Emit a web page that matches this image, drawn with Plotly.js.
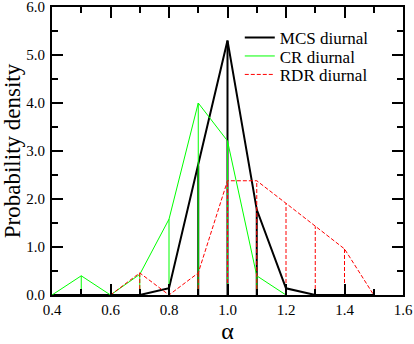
<!DOCTYPE html>
<html>
<head>
<meta charset="utf-8">
<script src="https://cdn.plot.ly/plotly-3.0.1.min.js"></script>
<style>html,body{margin:0;padding:0;background:#fff;}#chart{width:414px;height:344px;}</style>
</head>
<body>
<div id="chart"></div>
<script>
const alphaValues = [0.4, 0.5, 0.6, 0.7, 0.8, 0.9, 1.0, 1.1, 1.2, 1.3, 1.4, 1.5];
const mcsDiurnal = [0, 0, 0, 0, 0.14, 2.7, 5.3, 1.78, 0.14, 0, 0, 0];
const crDiurnal  = [0, 0.4, 0, 0.43, 1.58, 4.0, 3.21, 0.4, 0, null, null, null];
const rdrDiurnal = [null, null, 0, 0.46, 0, 0.46, 2.38, 2.38, 1.91, 1.43, 0.96, 0];
const seriesNames = ["MCS diurnal", "CR diurnal", "RDR diurnal"];
const xTickVals = [0.4, 0.6, 0.8, 1.0, 1.2, 1.4, 1.6];
const xTickText = ["0.4", "0.6", "0.8", "1.0", "1.2", "1.4", "1.6"];
const yTickVals = [0, 1, 2, 3, 4, 5, 6];
const yTickText = ["0.0", "1.0", "2.0", "3.0", "4.0", "5.0", "6.0"];

const serif = 'Liberation Serif, DejaVu Serif, serif';

function dropLines(xs, ys) {
  const dx = [], dy = [];
  xs.forEach((x, i) => {
    const y = ys[i];
    if (y !== null && y > 0) { dx.push(x, x, null); dy.push(0, y, null); }
  });
  return {x: dx, y: dy};
}

const styles = [
  {color: "#000000", width: 2, dash: "solid"},
  {color: "#00ff00", width: 1, dash: "solid"},
  {color: "#ff0000", width: 1, dash: "4px,2px"}
];
const allSeries = [mcsDiurnal, crDiurnal, rdrDiurnal];
const legendIds = ["legend", "legend2", "legend3"];

const traces = [];
allSeries.forEach((ys, k) => {
  const d = dropLines(alphaValues, ys);
  traces.push({
    x: d.x, y: d.y, type: "scatter", mode: "lines", showlegend: false, hoverinfo: "skip",
    line: {color: styles[k].color, width: styles[k].width, dash: styles[k].dash}
  });
  traces.push({
    x: alphaValues, y: ys, type: "scatter", mode: "lines", name: seriesNames[k],
    connectgaps: false, legend: legendIds[k],
    line: {color: styles[k].color, width: styles[k].width, dash: styles[k].dash}
  });
});

const axisCommon = {
  showgrid: false, zeroline: false, showline: true, linecolor: "#000", linewidth: 2,
  mirror: "allticks", ticks: "inside", ticklen: 11, tickwidth: 2, tickcolor: "#000",
  tickfont: {family: serif, size: 15, color: "#000"}, ticklabeloverflow: "allow"
};

function legendAt(yPaper) {
  return {
    x: 0.535, y: yPaper, xanchor: "left", yanchor: "middle",
    bgcolor: "rgba(0,0,0,0)", borderwidth: 0,
    font: {family: serif, size: 17, color: "#000"},
    itemwidth: 30, tracegroupgap: 0
  };
}
const plotTop = 7, plotH = 344 - 7 - 48.5;
function py(pix) { return 1 - (pix - plotTop) / plotH; }

const layout = {
  width: 414, height: 344,
  margin: {l: 52, r: 11, t: 7, b: 48.5, pad: 0},
  paper_bgcolor: "#fff", plot_bgcolor: "#fff",
  font: {family: serif, color: "#000"},
  showlegend: true,
  legend: legendAt(py(38)),
  legend2: legendAt(py(56.5)),
  legend3: legendAt(py(75)),
  xaxis: Object.assign({}, axisCommon, {
    range: [0.4, 1.6], tickvals: xTickVals, ticktext: xTickText,
    minor: {dtick: 0.1, tick0: 0.4, ticks: "inside", ticklen: 6, tickwidth: 2, tickcolor: "#000", showgrid: false},
    title: {text: "α", font: {family: serif, size: 24, color: "#000"}, standoff: 17}
  }),
  yaxis: Object.assign({}, axisCommon, {
    range: [0, 6], tickvals: yTickVals, ticktext: yTickText,
    minor: {dtick: 0.5, tick0: 0, ticks: "inside", ticklen: 6, tickwidth: 2, tickcolor: "#000", showgrid: false},
    title: {text: "Probability density", font: {family: serif, size: 23, color: "#000"}, standoff: 6},
    ticklabelstandoff: 2
  })
};

Plotly.newPlot("chart", traces, layout, {displayModeBar: false, staticPlot: true});
</script>
</body>
</html>
